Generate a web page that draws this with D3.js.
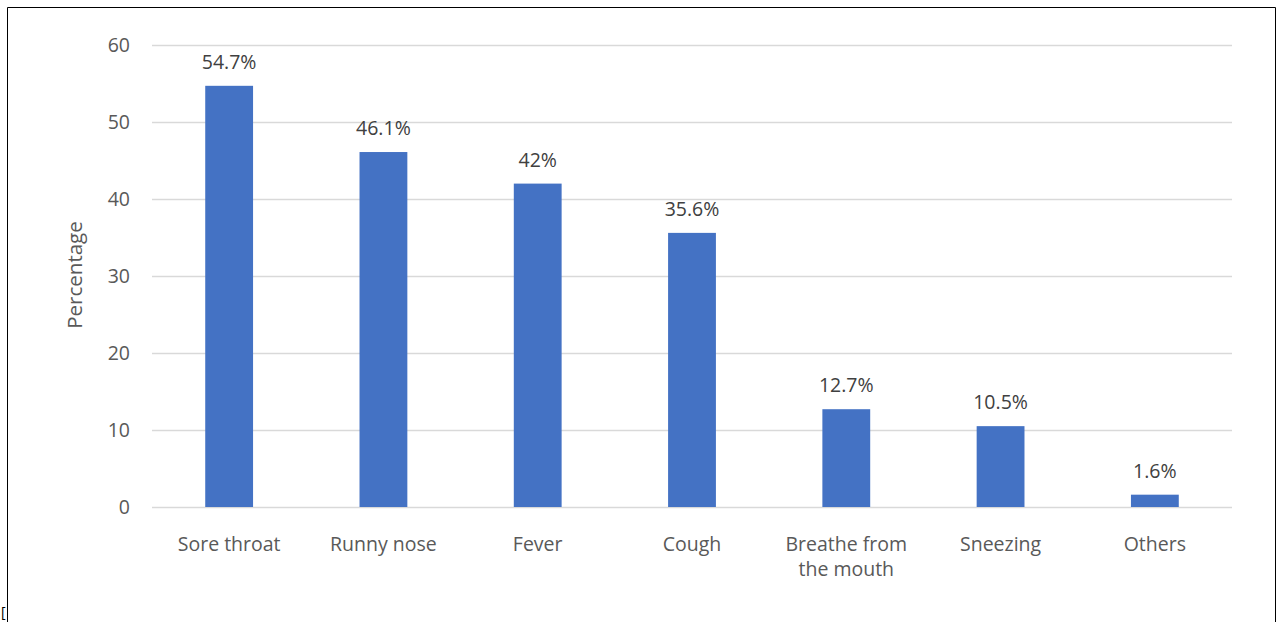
<!DOCTYPE html>
<html><head><meta charset="utf-8">
<script src="https://cdn.jsdelivr.net/npm/d3@7"></script>
<style>
html,body{margin:0;padding:0;background:#fff;}
svg{display:block;font-family:"Open Sans",sans-serif;}
</style></head>
<body>
<svg id="chart" width="1280" height="622"></svg>
<script>
const categories = ["Sore throat","Runny nose","Fever","Cough","Breathe from the mouth","Sneezing","Others"];
const categoryLines = [["Sore throat"],["Runny nose"],["Fever"],["Cough"],["Breathe from","the mouth"],["Sneezing"],["Others"]];
const values = [54.7,46.1,42,35.6,12.7,10.5,1.6];
const valueLabels = ["54.7%","46.1%","42%","35.6%","12.7%","10.5%","1.6%"];
const yTicks = [0,10,20,30,40,50,60];
const yTitle = "Percentage";

(function(){
const svg = d3.select("#chart");
// outer border
svg.append("path").attr("d","M7.5,630 V7.5 H1275.5 V630").attr("fill","none").attr("stroke","#000").attr("stroke-width",1);

const pL=152,pR=1232,pT=45,pB=507;
const x = d3.scaleBand().domain(categories).range([pL,pR]).paddingInner(0.69).paddingOuter(0.345);
const y = d3.scaleLinear().domain([0,60]).range([pB,pT]);

// gridlines
svg.append("g").selectAll("line").data(yTicks).join("line")
  .attr("x1",pL).attr("x2",pR)
  .attr("y1",d=>Math.round(y(d))+0.5).attr("y2",d=>Math.round(y(d))+0.5)
  .attr("stroke","#d9d9d9").attr("stroke-width",1.5);

// y axis labels
const yAxis = d3.axisLeft(y).tickValues(yTicks).tickSize(0).tickPadding(0);
const gy = svg.append("g").attr("transform",`translate(${pL-22},0)`).call(yAxis);
gy.select(".domain").remove();
gy.selectAll("text").attr("font-size",19.5).attr("fill","#595959").attr("font-family","Open Sans").attr("dy","0.35em");

// bars
svg.append("g").selectAll("rect").data(values).join("rect")
  .attr("x",(d,i)=>x(categories[i])).attr("width",x.bandwidth())
  .attr("y",d=>y(d)).attr("height",d=>y(0)-y(d))
  .attr("fill","#4472c4");

// value labels
svg.append("g").selectAll("text").data(values).join("text")
  .attr("x",(d,i)=>x(categories[i])+x.bandwidth()/2)
  .attr("y",d=>y(d)-17)
  .attr("text-anchor","middle").attr("font-size",19.5).attr("fill","#404040")
  .text((d,i)=>valueLabels[i]);

// x labels
const gx = svg.append("g");
categories.forEach((c,i)=>{
  const cx = x(c)+x.bandwidth()/2;
  const t = gx.append("text").attr("x",cx).attr("y",551)
    .attr("text-anchor","middle").attr("font-size",19.5).attr("fill","#595959");
  categoryLines[i].forEach((ln,j)=>{
    t.append("tspan").attr("x",cx).attr("dy",j===0?0:25).text(ln);
  });
});

// y title
svg.append("text").attr("transform","translate(82,275) rotate(-90)")
  .attr("text-anchor","middle").attr("font-size",20.5).attr("fill","#595959").text(yTitle);

// small mark bottom-left
svg.append("text").attr("x",1).attr("y",617).attr("font-size",14).attr("fill","#000").text("[");
})();
</script>
</body></html>
